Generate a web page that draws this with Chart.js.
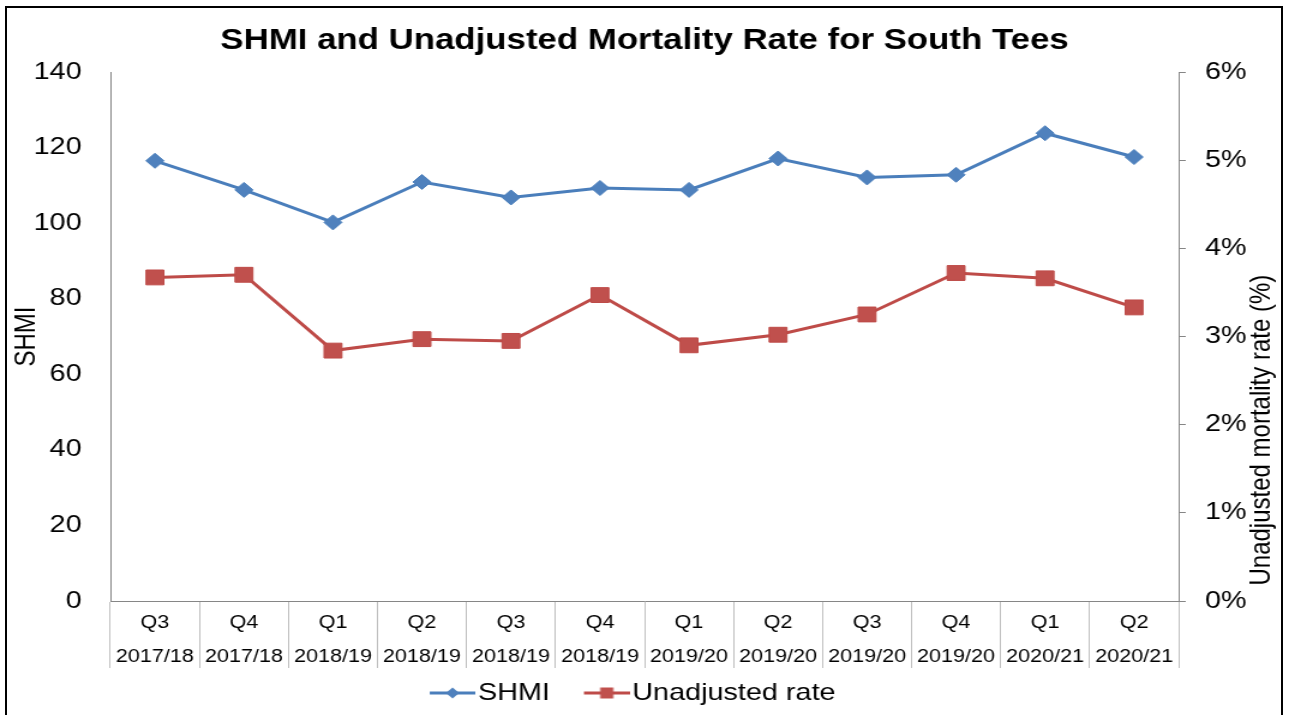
<!DOCTYPE html>
<html>
<head>
<meta charset="utf-8">
<script src="https://cdn.jsdelivr.net/npm/chart.js@4.4.1/dist/chart.umd.min.js"></script>
<style>
  html, body { margin: 0; padding: 0; background: #fff; overflow: hidden; width: 1289px; height: 715px; }
  #frame { position: absolute; left: 5px; top: 6px; width: 1278px; height: 720px; border: 2px solid #000; box-sizing: border-box; }
  #wrap { position: absolute; left: 0; top: 0; width: 1074px; height: 715px; transform-origin: 0 0; transform: scaleX(1.2002); }
  canvas { display: block; }
</style>
</head>
<body>
<div id="frame"></div>
<div id="wrap"><canvas id="c" width="1074" height="715"></canvas></div>
<script>
// ---- data ----
const quarters = ['Q3','Q4','Q1','Q2','Q3','Q4','Q1','Q2','Q3','Q4','Q1','Q2'];
const years = ['2017/18','2017/18','2018/19','2018/19','2018/19','2018/19','2019/20','2019/20','2019/20','2019/20','2020/21','2020/21'];
const shmiValues = [116.5, 108.8, 100.2, 110.9, 106.8, 109.3, 108.8, 117.1, 112.1, 112.8, 123.8, 117.5];
const rateValues = [3.67, 3.70, 2.84, 2.97, 2.95, 3.47, 2.90, 3.02, 3.25, 3.72, 3.66, 3.33];
const leftTicks = { min: 0, max: 140, step: 20 };
const rightTicks = { min: 0, max: 6, step: 1 };

const BLUE_LINE = '#4A7EBB', BLUE_FILL = '#4F81BD';
const RED_LINE = '#BE4B48', RED_FILL = '#C0504D';
const AXIS = '#868686', GRID = '#BFBFBF';

Chart.defaults.font.family = 'Arial, "Liberation Sans", sans-serif';
Chart.defaults.color = '#000';

// legend icon: line with marker, drawn in the right part of a wider transparent canvas
function legendIcon(color, fill, kind) {
  const c = document.createElement('canvas');
  c.width = 64; c.height = 16;
  const g = c.getContext('2d');
  const x0 = 26;
  g.strokeStyle = color; g.lineWidth = 3;
  g.beginPath(); g.moveTo(x0, 8); g.lineTo(x0 + 38, 8); g.stroke();
  g.fillStyle = fill;
  g.beginPath();
  if (kind === 'diamond') {
    g.moveTo(x0 + 19, 2.5); g.lineTo(x0 + 24.5, 8); g.lineTo(x0 + 19, 13.5); g.lineTo(x0 + 13.5, 8); g.closePath();
  } else {
    g.rect(x0 + 13.5, 2.5, 11, 11);
  }
  g.fill();
  return c;
}
const icons = [legendIcon(BLUE_LINE, BLUE_FILL, 'diamond'), legendIcon(RED_LINE, RED_FILL, 'square')];

const rightTitle = {
  id: 'rightTitle',
  afterLayout(chart) {
    if (chart.legend) { chart.legend.left -= 36; }
  },
  afterDraw(chart) {
    const s = chart.scales.y1, a = chart.chartArea;
    const ctx = chart.ctx;
    ctx.save();
    ctx.translate(s.right - 22.5, a.top + (a.bottom - a.top) * 0.677);
    ctx.rotate(-Math.PI / 2);
    ctx.font = '24px Arial, "Liberation Sans", sans-serif';
    ctx.fillStyle = '#000';
    ctx.textAlign = 'center';
    ctx.textBaseline = 'middle';
    ctx.fillText('Unadjusted mortality rate (%)', 0, 0);
    ctx.restore();
  }
};

new Chart(document.getElementById('c'), {
  type: 'line',
  data: {
    labels: quarters.map((q, i) => [q, years[i]]),
    datasets: [
      {
        label: 'SHMI', data: shmiValues, yAxisID: 'y',
        borderColor: BLUE_LINE, backgroundColor: BLUE_FILL, borderWidth: 3,
        pointStyle: 'rectRot', pointRadius: 7.5, pointBorderWidth: 1,
        pointBorderColor: BLUE_LINE, pointBackgroundColor: BLUE_FILL, tension: 0
      },
      {
        label: 'Unadjusted rate', data: rateValues, yAxisID: 'y1',
        borderColor: RED_LINE, backgroundColor: RED_FILL, borderWidth: 3,
        pointStyle: 'rect', pointRadius: 10.5, pointBorderWidth: 1,
        pointBorderColor: RED_LINE, pointBackgroundColor: RED_FILL, tension: 0
      }
    ]
  },
  options: {
    responsive: false, animation: false, devicePixelRatio: 1,
    layout: { padding: { left: 0, right: 0, top: 0, bottom: 0 } },
    plugins: {
      title: {
        display: true, text: 'SHMI and Unadjusted Mortality Rate for South Tees',
        font: { size: 29, weight: 'bold', lineHeight: 1.2 }, color: '#000',
        padding: { top: 24, bottom: 13.2 }
      },
      legend: {
        position: 'bottom',
        labels: {
          usePointStyle: true, pointStyleWidth: 44.5, padding: 12,
          font: { size: 24 }, color: '#000',
          generateLabels(chart) {
            const items = Chart.defaults.plugins.legend.labels.generateLabels(chart);
            items.forEach((it, i) => { it.pointStyle = icons[i]; });
            return items;
          }
        }
      },
      tooltip: { enabled: false }
    },
    scales: {
      x: {
        offset: true,
        grid: { display: true, drawOnChartArea: false, drawTicks: true, tickLength: 67, color: GRID, offset: true },
        border: { display: true, color: AXIS },
        ticks: { padding: -62, maxRotation: 0, autoSkip: false, color: '#000', font: { size: 18, lineHeight: 1.89 } },
        afterFit(s) { s.height = 68; }
      },
      y: {
        position: 'left', min: leftTicks.min, max: leftTicks.max,
        grid: { display: false, drawTicks: false },
        border: { display: true, color: AXIS },
        ticks: { stepSize: leftTicks.step, padding: 24, color: '#000', font: { size: 24 } },
        title: { display: true, text: 'SHMI', color: '#000', font: { size: 24 }, padding: { top: 8, bottom: 0 } },
        afterFit(s) { s.width = 92; }
      },
      y1: {
        position: 'right', min: rightTicks.min, max: rightTicks.max,
        grid: { display: true, drawOnChartArea: false, drawTicks: true, tickLength: 6, color: AXIS },
        border: { display: true, color: AXIS },
        ticks: { stepSize: rightTicks.step, padding: 16, color: '#000', font: { size: 24 }, callback: v => v + '%' },
        afterFit(s) { s.width = 92; }
      }
    }
  },
  plugins: [rightTitle]
});
</script>
</body>
</html>
